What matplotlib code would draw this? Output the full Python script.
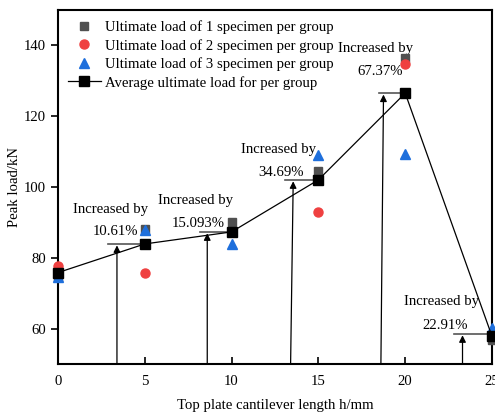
import matplotlib
matplotlib.use('Agg')
import matplotlib.pyplot as plt

plt.rcParams['font.family'] = ['Liberation Serif', 'DejaVu Serif']
plt.rcParams['font.size'] = 10.6

# cantilever length (mm) and loads (kN)
h = [0, 5, 10, 15, 20, 25]
load1 = [74.6, 88.0, 90.2, 104.5, 136.5, 56.8]
load2 = [77.7, 75.7, 87.4, 92.8, 134.6, 58.0]
load3 = [74.7, 87.9, 83.9, 108.9, 109.4, 60.1]
avg = [75.8, 83.9, 87.3, 102.0, 126.5, 57.8]

# arrow positions and the increase notes
arrow_x_top = [3.4, 8.6, 13.55, 18.75, 23.3]
arrow_x_bot = [3.4, 8.6, 13.4, 18.6, 23.3]
level_start = [2.9, 8.2, 13.1, 18.5, 22.8]
level_end = [5, 10, 15, 20, 25]
levels = [83.9, 87.3, 102.0, 126.5, 58.5]
notes = ['10.61%', '15.093%', '34.69%', '67.37%', '22.91%']
note_xy = [(3.05, 93.5), (7.9, 96.3), (12.7, 110.5), (18.3, 139.0), (22.1, 67.6)]
pct_xy = [(3.3, 87.3), (8.1, 89.8), (12.85, 104.0), (18.55, 132.5), (22.3, 61.0)]

fig = plt.figure(figsize=(4.95, 4.15), dpi=100)
ax = fig.add_axes([0.117, 0.123, 0.877, 0.853])

for i in range(len(levels)):
    ax.plot([level_start[i], level_end[i]], [levels[i], levels[i]], color='#555555', lw=1.2, zorder=2)
    ax.annotate('', xy=(arrow_x_top[i], levels[i] - 0.4), xytext=(arrow_x_bot[i], 50),
                arrowprops=dict(arrowstyle='-|>', color='black', lw=0.9, mutation_scale=10,
                                shrinkA=0, shrinkB=0), zorder=2)
    ax.text(note_xy[i][0], note_xy[i][1], 'Increased by', ha='center', va='center')
    ax.text(pct_xy[i][0], pct_xy[i][1], notes[i], ha='center', va='center')

ax.plot(h, load1, 's', color='#505050', ms=6, clip_on=False, zorder=3,
        label='Ultimate load of 1 specimen per group')
ax.plot(h, load2, 'o', color='#EF4040', ms=6.5, clip_on=False, zorder=3,
        label='Ultimate load of 2 specimen per group')
ax.plot(h, load3, '^', color='#1E6FDC', ms=6.5, clip_on=False, zorder=3,
        label='Ultimate load of 3 specimen per group')
ax.plot(h, avg, '-s', color='black', lw=0.9, ms=6.5, clip_on=False, zorder=4,
        label='Average ultimate load for per group')

ax.set_xlim(0, 25)
ax.set_ylim(50, 150)
ax.set_xticks([0, 5, 10, 15, 20, 25])
ax.set_yticks([60, 80, 100, 120, 140])
ax.tick_params(axis='x', direction='in', length=5, width=1.2, pad=8)
ax.tick_params(axis='y', direction='out', length=5, width=1.2)
for s in ax.spines.values():
    s.set_linewidth(1.5)

ax.set_xlabel('Top plate cantilever length h/mm', labelpad=8)
ax.set_ylabel('Peak load/kN', labelpad=2)
ax.legend(loc='upper left', frameon=False, handlelength=2.2, handletextpad=0.3,
          borderaxespad=0.3, labelspacing=0.32)

fig.savefig('out.png', dpi=100)
